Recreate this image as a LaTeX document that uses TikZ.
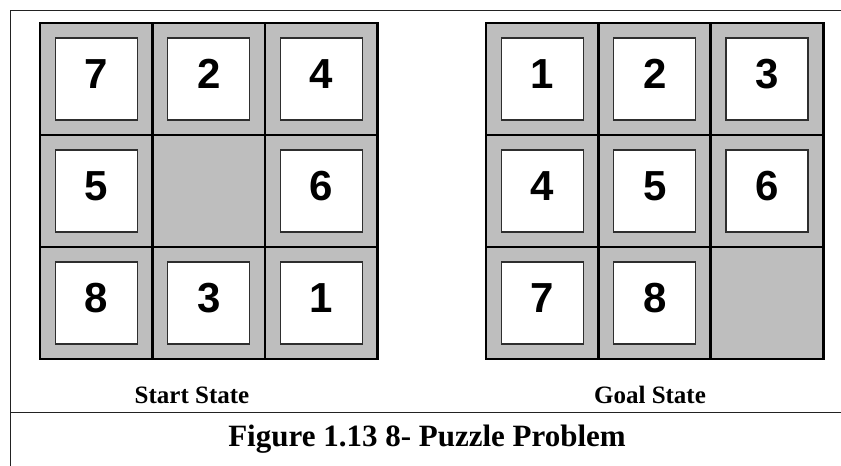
\documentclass[tikz,border=0pt]{standalone}
\usepackage{fontspec}
\setmainfont{Liberation Serif}
\newfontfamily\tilefont{Liberation Sans}
\definecolor{cellgray}{HTML}{BEBEBE}
\definecolor{tileedge}{HTML}{2E2E2E}
\definecolor{framec}{HTML}{222222}
\begin{document}
\begin{tikzpicture}[x=1pt,y=-1pt,
  cellbox/.style={draw=black, line width=2.6pt, fill=cellgray, minimum width=112.5pt, minimum height=112pt, inner sep=0pt, outer sep=0pt},
  tilebox/.style={draw=tileedge, line width=1.4pt, fill=white, minimum size=82pt, inner sep=0pt},
  numtext/.style={font=\tilefont\bfseries\fontsize{42}{42}\selectfont, inner sep=0pt},
  statetext/.style={font=\bfseries\fontsize{25}{25}\selectfont, inner sep=0pt, anchor=base},
  captext/.style={font=\bfseries\fontsize{31}{31}\selectfont, inner sep=0pt, anchor=base},
  frameline/.style={draw=framec, line width=1pt}
]
\useasboundingbox (0,0) rectangle (841,466);
% frame
\coordinate (fbl) at (10,466);
\coordinate (ftl) at (10,10.5);
\coordinate (ftr) at (841,10.5);
\coordinate (fml) at (10,412);
\coordinate (fmr) at (841,412);
\draw[frameline] (fbl) -- (ftl) -- (ftr);
\draw[frameline] (fml) -- (fmr);

% start state
\foreach \r/\c in {0/0,0/1,0/2,1/0,1/1,1/2,2/0,2/1,2/2}{
  \node[cellbox] (sc\r\c) at ({96.25+\c*112.5},{79+\r*112}) {};
}
\foreach \r/\c/\n in {0/0/7,0/1/2,0/2/4,1/0/5,1/2/6,2/0/8,2/1/3,2/2/1}{
  \node[tilebox] (st\r\c) at (sc\r\c.center) {};
  \node[numtext] (sn\r\c) at ([yshift=5pt]st\r\c.center) {\n};
}
% goal state
\foreach \r/\c in {0/0,0/1,0/2,1/0,1/1,1/2,2/0,2/1,2/2}{
  \node[cellbox] (gc\r\c) at ({542.4+\c*112.3},{79+\r*112}) {};
}
\foreach \r/\c/\n in {0/0/1,0/1/2,0/2/3,1/0/4,1/1/5,1/2/6,2/0/7,2/1/8}{
  \node[tilebox] (gt\r\c) at (gc\r\c.center) {};
  \node[numtext] (gn\r\c) at ([yshift=5pt]gt\r\c.center) {\n};
}

\node[statetext] (startlbl) at (192,403) {Start State};
\node[statetext] (goallbl) at (650,403) {Goal State};
\node[captext] (caption) at (427,446) {Figure 1.13 8- Puzzle Problem};
\end{tikzpicture}
\end{document}
